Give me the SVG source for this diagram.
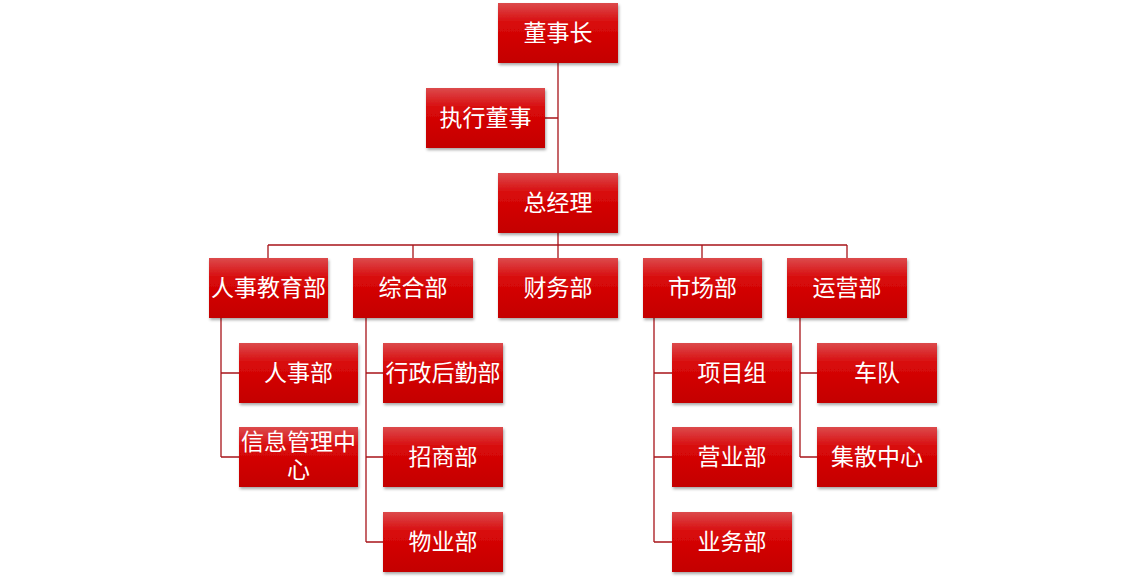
<svg xmlns="http://www.w3.org/2000/svg" width="1146" height="579" viewBox="0 0 1146 579">
<style>
.box{fill:url(#g);filter:url(#sh)}
.t{font-family:"Microsoft YaHei","Noto Sans CJK SC",sans-serif;font-size:23px;fill:#fff;text-anchor:middle}
.c{stroke:#a8141a;stroke-width:1.3;fill:none}
</style>
<defs>
<linearGradient id="g" x1="0" y1="0" x2="0" y2="1">
<stop offset="0" stop-color="#dc4a4c"/>
<stop offset="0.35" stop-color="#d80808"/>
<stop offset="1" stop-color="#c40000"/>
</linearGradient>
<filter id="sh" x="-10%" y="-10%" width="125%" height="130%">
<feDropShadow dx="1" dy="2" stdDeviation="1.5" flood-color="#000" flood-opacity="0.35"/>
</filter>
</defs>
<rect width="1146" height="579" fill="#fff"/>
<g id="connectors">
<path class="c" d="M558 63V173M545 118H558M558 233V245M268 245H847M268 245V258M413 245V258M558 245V258M702 245V258M847 245V258"/>
<path class="c" d="M221 318V457M221 373H239M221 457H239"/>
<path class="c" d="M366 318V542M366 373H383M366 457H383M366 542H383"/>
<path class="c" d="M654 318V542M654 373H672M654 457H672M654 542H672"/>
<path class="c" d="M800 318V457M800 373H817M800 457H817"/>
</g>
<g id="n1"><rect class="box" x="498" y="3" width="120" height="60"/><text class="t" x="558" y="41">董事长</text></g>
<g id="n2"><rect class="box" x="426" y="88" width="119" height="60"/><text class="t" x="485.5" y="126">执行董事</text></g>
<g id="n3"><rect class="box" x="498" y="173" width="120" height="60"/><text class="t" x="558" y="211">总经理</text></g>
<g id="n4"><rect class="box" x="209" y="258" width="119" height="60"/><text class="t" x="268.5" y="296">人事教育部</text></g>
<g id="n5"><rect class="box" x="353" y="258" width="120" height="60"/><text class="t" x="413" y="296">综合部</text></g>
<g id="n6"><rect class="box" x="498" y="258" width="120" height="60"/><text class="t" x="558" y="296">财务部</text></g>
<g id="n7"><rect class="box" x="643" y="258" width="119" height="60"/><text class="t" x="702.5" y="296">市场部</text></g>
<g id="n8"><rect class="box" x="787" y="258" width="120" height="60"/><text class="t" x="847" y="296">运营部</text></g>
<g id="n9"><rect class="box" x="239" y="343" width="119" height="60"/><text class="t" x="298.5" y="381">人事部</text></g>
<g id="n10"><rect class="box" x="239" y="427" width="119" height="60"/><text class="t" x="298.5" y="450">信息管理中</text><text class="t" x="298.5" y="478">心</text></g>
<g id="n11"><rect class="box" x="383" y="343" width="120" height="60"/><text class="t" x="443" y="381">行政后勤部</text></g>
<g id="n12"><rect class="box" x="383" y="427" width="120" height="60"/><text class="t" x="443" y="465">招商部</text></g>
<g id="n13"><rect class="box" x="383" y="512" width="120" height="60"/><text class="t" x="443" y="550">物业部</text></g>
<g id="n14"><rect class="box" x="672" y="343" width="120" height="60"/><text class="t" x="732" y="381">项目组</text></g>
<g id="n15"><rect class="box" x="672" y="427" width="120" height="60"/><text class="t" x="732" y="465">营业部</text></g>
<g id="n16"><rect class="box" x="672" y="512" width="120" height="60"/><text class="t" x="732" y="550">业务部</text></g>
<g id="n17"><rect class="box" x="817" y="343" width="120" height="60"/><text class="t" x="877" y="381">车队</text></g>
<g id="n18"><rect class="box" x="817" y="427" width="120" height="60"/><text class="t" x="877" y="465">集散中心</text></g>
</svg>
